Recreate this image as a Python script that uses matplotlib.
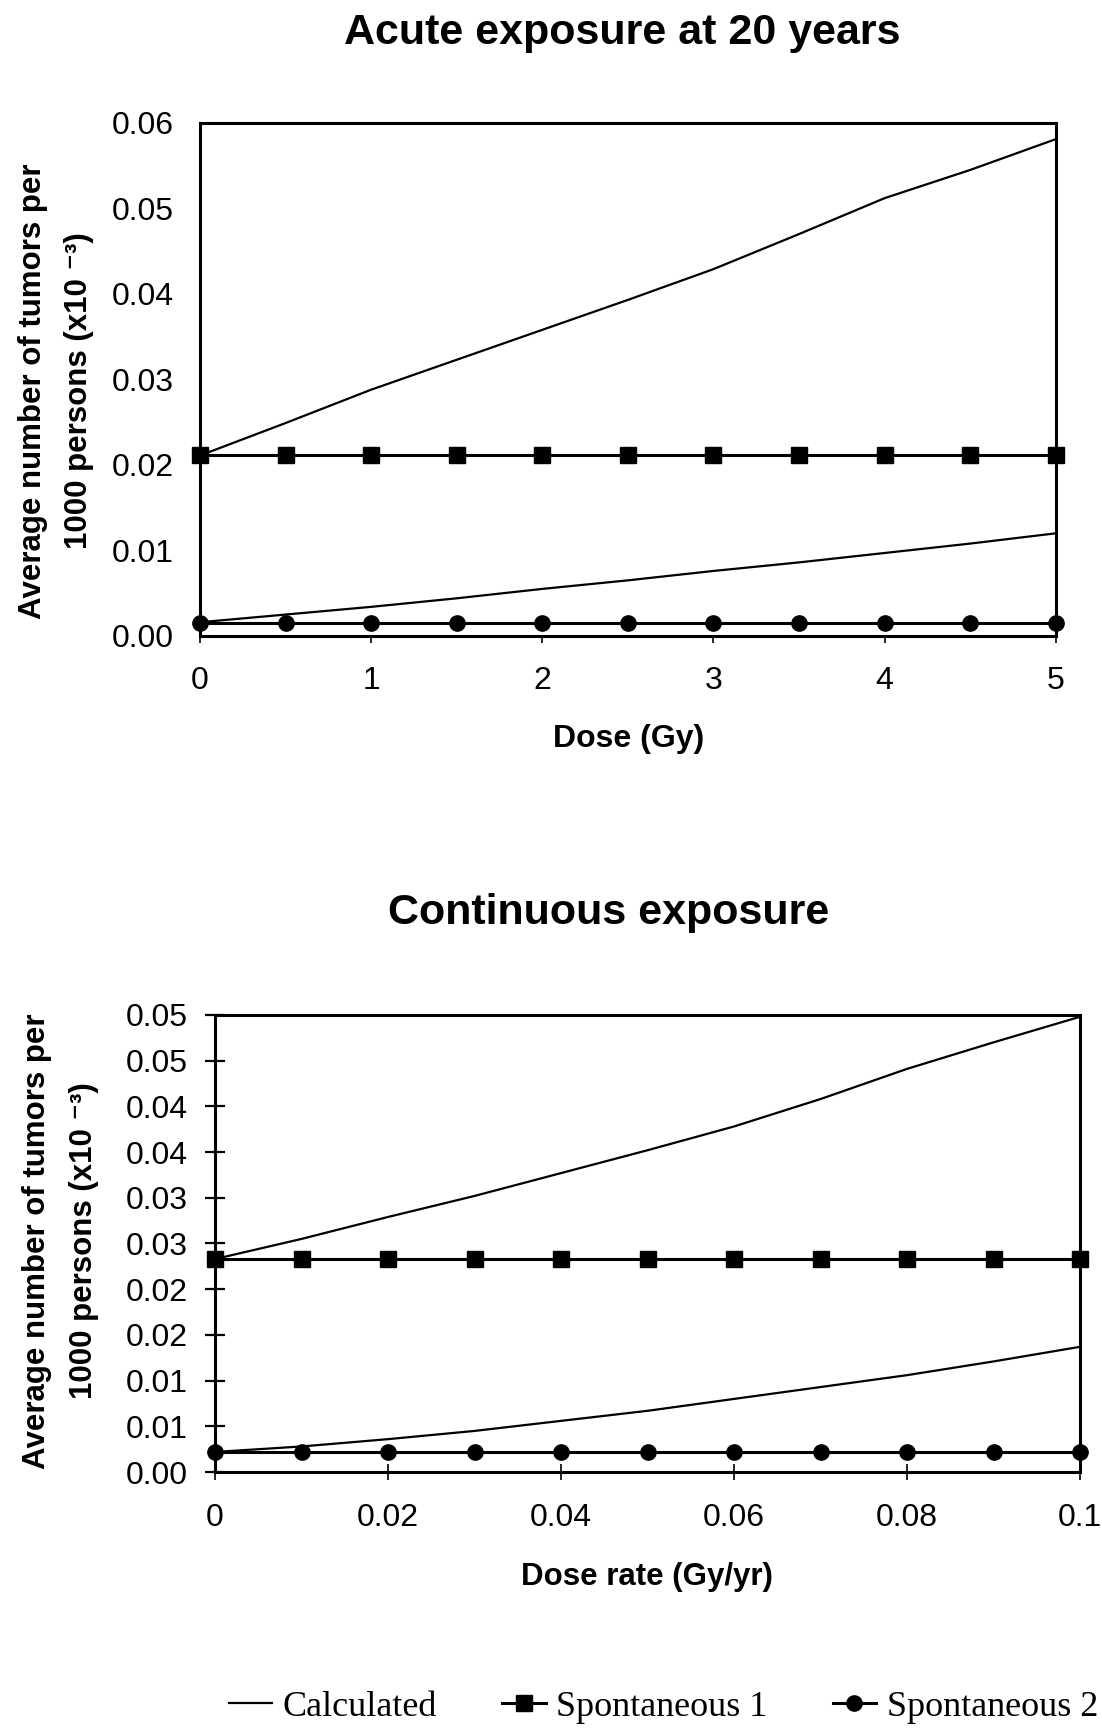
import matplotlib
matplotlib.use("Agg")
import matplotlib.pyplot as plt

plt.rcParams['font.family'] = ['Liberation Sans', 'DejaVu Sans']

# Acute exposure at 20 years
acute_dose = [0, 0.5, 1, 1.5, 2, 2.5, 3, 3.5, 4, 4.5, 5]
acute_calc_high = [0.0211, 0.0249, 0.0288, 0.0323, 0.0358, 0.0393, 0.0429, 0.0470, 0.0512, 0.0545, 0.0581]
acute_calc_low = [0.0016, 0.0025, 0.0034, 0.0044, 0.0055, 0.0065, 0.0076, 0.0086, 0.0097, 0.0108, 0.0120]
acute_spont1 = [0.0212, 0.0212, 0.0212, 0.0212, 0.0212, 0.0212, 0.0212, 0.0212, 0.0212, 0.0212, 0.0212]
acute_spont2 = [0.0015, 0.0015, 0.0015, 0.0015, 0.0015, 0.0015, 0.0015, 0.0015, 0.0015, 0.0015, 0.0015]
acute_xticks = [0, 1, 2, 3, 4, 5]
acute_yticks = [0, 0.01, 0.02, 0.03, 0.04, 0.05, 0.06]
acute_ylabels = ["0.00", "0.01", "0.02", "0.03", "0.04", "0.05", "0.06"]

# Continuous exposure
cont_rate = [0, 0.01, 0.02, 0.03, 0.04, 0.05, 0.06, 0.07, 0.08, 0.09, 0.1]
cont_calc_high = [0.0233, 0.0255, 0.0279, 0.0302, 0.0327, 0.0352, 0.0378, 0.0408, 0.0441, 0.0470, 0.0498]
cont_calc_low = [0.0022, 0.0028, 0.0036, 0.0045, 0.0056, 0.0067, 0.0080, 0.0093, 0.0106, 0.0121, 0.0137]
cont_spont1 = [0.0233, 0.0233, 0.0233, 0.0233, 0.0233, 0.0233, 0.0233, 0.0233, 0.0233, 0.0233, 0.0233]
cont_spont2 = [0.0022, 0.0022, 0.0022, 0.0022, 0.0022, 0.0022, 0.0022, 0.0022, 0.0022, 0.0022, 0.0022]
cont_xticks = [0, 0.02, 0.04, 0.06, 0.08, 0.1]
cont_xlabels = ["0", "0.02", "0.04", "0.06", "0.08", "0.1"]
cont_yticks = [0, 0.005, 0.01, 0.015, 0.02, 0.025, 0.03, 0.035, 0.04, 0.045, 0.05]
cont_ylabels = ["0.00", "0.01", "0.01", "0.02", "0.02", "0.03", "0.03", "0.04", "0.04", "0.05", "0.05"]

legend_names = ["Calculated", "Spontaneous 1", "Spontaneous 2"]

fig = plt.figure(figsize=(11.02, 17.29), dpi=100)
ax1 = fig.add_axes([0.1815, 0.6322, 0.7765, 0.2967])
ax2 = fig.add_axes([0.1951, 0.1486, 0.7850, 0.2644])


def draw(ax, x, high, low, s1, s2):
    l1, = ax.plot(x, high, color='black', lw=1.6, clip_on=False, zorder=3)
    ax.plot(x, low, color='black', lw=1.6, clip_on=False, zorder=3)
    l2, = ax.plot(x, s1, color='black', lw=2.2, marker='s', ms=11, clip_on=False, zorder=4)
    l3, = ax.plot(x, s2, color='black', lw=2.2, marker='o', ms=11, clip_on=False, zorder=4)
    for sp in ax.spines.values():
        sp.set_linewidth(2.2)
        sp.set_color('black')
    return l1, l2, l3


handles = draw(ax1, acute_dose, acute_calc_high, acute_calc_low, acute_spont1, acute_spont2)
ax1.set_xlim(0, 5)
ax1.set_ylim(0, 0.06)
ax1.set_xticks(acute_xticks)
ax1.set_xticklabels([str(t) for t in acute_xticks])
ax1.set_yticks(acute_yticks)
ax1.set_yticklabels(acute_ylabels)
ax1.tick_params(axis='x', direction='out', length=5, width=1.2, pad=17, labelsize=23)
ax1.tick_params(axis='y', length=0, pad=19, labelsize=23)

draw(ax2, cont_rate, cont_calc_high, cont_calc_low, cont_spont1, cont_spont2)
ax2.set_xlim(0, 0.1)
ax2.set_ylim(0, 0.05)
ax2.set_xticks(cont_xticks)
ax2.set_xticklabels(cont_xlabels)
ax2.set_yticks(cont_yticks)
ax2.set_yticklabels(cont_ylabels)
ax2.tick_params(axis='x', direction='inout', length=12, width=1.2, pad=16, labelsize=23)
ax2.tick_params(axis='y', direction='inout', length=15, width=1.6, pad=12, labelsize=23)

fig.text(0.565, 0.981, "Acute exposure at 20 years", ha='center', va='center',
         fontsize=31, fontweight='bold')
fig.text(0.552, 0.472, "Continuous exposure", ha='center', va='center',
         fontsize=31, fontweight='bold')

fig.text(0.570, 0.5726, "Dose (Gy)", ha='center', va='center', fontsize=23, fontweight='bold')
fig.text(0.587, 0.088, "Dose rate (Gy/yr)", ha='center', va='center', fontsize=22.5, fontweight='bold')

# y labels (two lines each)
for x1, x2, yc in [(33, 79, 0.774), (37, 84, 0.2822)]:
    fig.text(x1 / 1102, yc, "Average number of tumors per", rotation=90,
             ha='center', va='center', fontsize=22.5, fontweight='bold')
    fig.text(x2 / 1102, yc, "1000 persons (x10 \u207b\u00b3)", rotation=90,
             ha='center', va='center', fontsize=22.5, fontweight='bold')

fig.legend(handles, legend_names, loc='center', bbox_to_anchor=(0.602, 0.0125),
           ncol=3, frameon=False, handlelength=1.2, handletextpad=0.3,
           columnspacing=1.8, prop={'family': 'Liberation Serif', 'size': 26},
           markerscale=1.0)

fig.savefig("out.png", dpi=100)
